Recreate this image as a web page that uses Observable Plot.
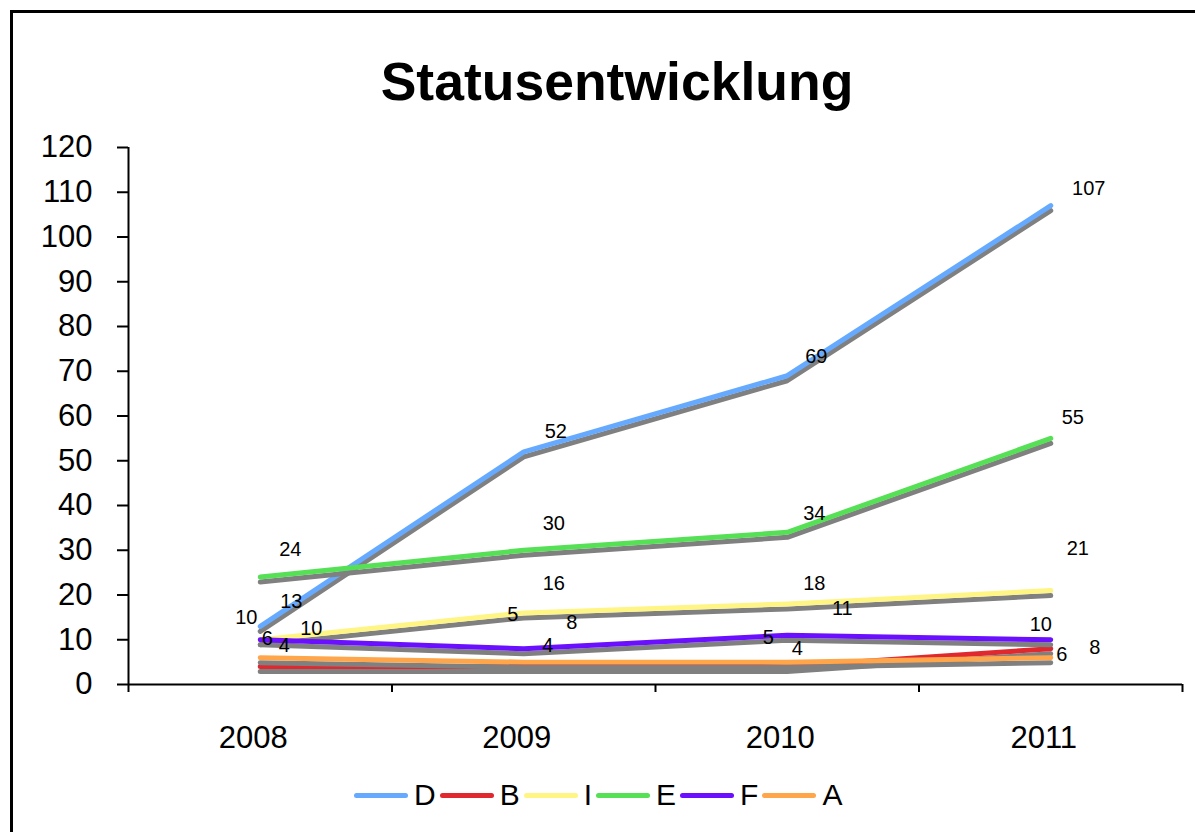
<!DOCTYPE html>
<html>
<head>
<meta charset="utf-8">
<script src="https://cdn.jsdelivr.net/npm/d3@7"></script>
<script src="https://cdn.jsdelivr.net/npm/@observablehq/plot@0.6"></script>
<style>
  html, body { margin: 0; padding: 0; background: #fff; overflow: hidden; width: 1195px; height: 832px; }
  body { position: relative; font-family: "Liberation Sans", Arial, sans-serif; }
  #frame { position: absolute; left: 10px; top: 10px; width: 1220px; height: 860px; border: 3px solid #000; box-sizing: border-box; }
  #title { position: absolute; left: 0; width: 1234px; top: 55px; text-align: center; font-weight: bold; font-size: 53.5px; line-height: 53px; color: #000; }
  #chart { position: absolute; left: 0; top: 120px; }
  #legend { position: absolute; left: 354px; top: 780px; display: flex; align-items: center; font-size: 30px; line-height: 30px; color: #000; }
  .sw { display: inline-block; width: 54px; height: 5px; border-radius: 3px; margin-right: 6px; }
  .lb { margin-right: 4px; }
</style>
</head>
<body>
<div id="frame"></div>
<div id="title">Statusentwicklung</div>
<div id="chart"></div>
<div id="legend"></div>
<script>
// ---- data ----
const years = [2008, 2009, 2010, 2011];
const seriesNames = ["D", "B", "I", "E", "F", "A"];
const seriesColors = ["#66aaff", "#e0282f", "#fff585", "#55e055", "#6a10ff", "#ffa64a"];
const valuesD = [13, 52, 69, 107];
const valuesB = [4, 4, 4, 8];
const valuesI = [10, 16, 18, 21];
const valuesE = [24, 30, 34, 55];
const valuesF = [10, 8, 11, 10];
const valuesA = [6, 5, 5, 6];
const yTicks = [0, 10, 20, 30, 40, 50, 60, 70, 80, 90, 100, 110, 120];

// label nudges (pixels, like manually moved data labels), per series and year
const labelNudge = {
  D: [[31, -25], [32, -20], [29, -19], [38, -17]],
  B: [[24, -21], [24, -21], [10, -18], [44, -1]],
  I: [[-14, -22], [30, -29], [27, -20], [27, -42]],
  E: [[30, -28], [30, -27], [27, -19], [22, -21]],
  F: [[51, -11], [48, -26], [55, -27], [-10, -15]],
  A: [[7, -19], [-11, -48], [-19, -25], [11, -3]]
};

const seriesValues = [valuesD, valuesB, valuesI, valuesE, valuesF, valuesA];
const rows = [];
seriesNames.forEach((s, i) => {
  years.forEach((yr, j) => rows.push({series: s, year: yr, value: seriesValues[i][j], idx: j}));
});

const boundaries = [years[0] - 0.5, ...years.map(y => y + 0.5)];

const marks = [];
seriesNames.forEach((s, i) => {
  const data = rows.filter(r => r.series === s);
  marks.push(Plot.line(data, {x: "year", y: "value", stroke: "#808080", strokeWidth: 5, dy: 5, strokeLinecap: "round", strokeLinejoin: "round"}));
  marks.push(Plot.line(data, {x: "year", y: "value", stroke: seriesColors[i], strokeWidth: 5, strokeLinecap: "round", strokeLinejoin: "round"}));
});

const labelMarks = rows.map(r => {
  const [dx, dy] = labelNudge[r.series][r.idx];
  return Plot.text([r], {x: "year", y: "value", text: d => String(d.value), dx, dy, fontSize: 20, fill: "#000"});
});

const chart = Plot.plot({
  width: 1195,
  height: 640,
  marginLeft: 128,
  marginRight: 13,
  marginTop: 27,
  marginBottom: 76,
  style: {fontFamily: "'Liberation Sans', Arial, sans-serif", fontSize: "31px", color: "#000", background: "transparent"},
  x: {domain: [boundaries[0], boundaries[boundaries.length - 1]]},
  y: {domain: [0, 120]},
  marks: [
    Plot.axisY({ticks: yTicks, tickSize: 11, tickPadding: 25, strokeWidth: 2, stroke: "#000", fontSize: 31, label: null, tickFormat: d => String(d)}),
    Plot.axisX({ticks: boundaries, tickSize: 8, strokeWidth: 2, stroke: "#000", tickFormat: () => "", label: null}),
    Plot.axisX({ticks: years, tickSize: 0, tickPadding: 41, dx: -7, fontSize: 31, tickFormat: d => String(d), label: null}),
    ...marks,
    ...labelMarks,
    Plot.ruleY([0], {stroke: "#000", strokeWidth: 2}),
    Plot.ruleX([boundaries[0]], {stroke: "#000", strokeWidth: 2})
  ]
});
document.getElementById("chart").appendChild(chart);

const legend = document.getElementById("legend");
seriesNames.forEach((s, i) => {
  const sw = document.createElement("span");
  sw.className = "sw";
  sw.style.background = seriesColors[i];
  const lb = document.createElement("span");
  lb.className = "lb";
  lb.textContent = s;
  legend.appendChild(sw);
  legend.appendChild(lb);
});
</script>
</body>
</html>
